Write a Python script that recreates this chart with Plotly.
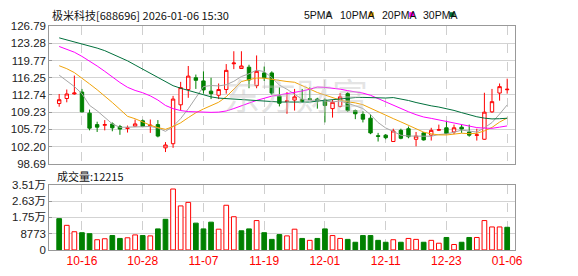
import plotly.graph_objects as go

# ---------------- data ----------------
dates = ["2025-10-13", "2025-10-14", "2025-10-15", "2025-10-16", "2025-10-17",
         "2025-10-20", "2025-10-21", "2025-10-22", "2025-10-23", "2025-10-24",
         "2025-10-27", "2025-10-28", "2025-10-29", "2025-10-30", "2025-10-31",
         "2025-11-03", "2025-11-04", "2025-11-05", "2025-11-06", "2025-11-07",
         "2025-11-10", "2025-11-11", "2025-11-12", "2025-11-13", "2025-11-14",
         "2025-11-17", "2025-11-18", "2025-11-19", "2025-11-20", "2025-11-21",
         "2025-11-24", "2025-11-25", "2025-11-26", "2025-11-27", "2025-11-28",
         "2025-12-01", "2025-12-02", "2025-12-03", "2025-12-04", "2025-12-05",
         "2025-12-08", "2025-12-09", "2025-12-10", "2025-12-11", "2025-12-12",
         "2025-12-15", "2025-12-16", "2025-12-17", "2025-12-18", "2025-12-19",
         "2025-12-22", "2025-12-23", "2025-12-24", "2025-12-25", "2025-12-26",
         "2025-12-29", "2025-12-30", "2025-12-31", "2026-01-05", "2026-01-06"]

opens = [110.99, 112.02, 112.95, 113.33, 109.03, 106.69, 106.56, 106.83, 106.30, 105.91,
         106.37, 107.47, 106.45, 106.69, 101.95, 102.79, 110.73, 113.85, 116.25, 115.60,
         113.52, 112.68, 113.85, 119.10, 118.14, 118.40, 114.63, 117.23, 117.23, 112.55,
         111.40, 111.70, 111.83, 111.96, 111.90, 111.70, 109.95, 110.40, 113.00, 109.56,
         108.78, 108.00, 104.42, 104.54, 103.24, 105.52, 105.85, 103.70, 105.00, 104.54,
         105.55, 106.04, 105.19, 106.17, 105.19, 104.50, 103.70, 109.29, 113.13, 113.80]
highs = [112.94, 113.85, 116.70, 113.97, 109.75, 107.28, 107.61, 107.14, 106.63, 106.50,
         107.73, 107.73, 107.73, 107.61, 103.12, 112.55, 115.41, 118.65, 116.90, 117.56,
         116.25, 115.08, 119.04, 121.66, 121.66, 118.90, 120.80, 118.53, 117.56, 114.30,
         113.33, 113.97, 113.97, 114.30, 112.16, 112.02, 111.70, 113.13, 113.33, 109.75,
         109.43, 108.78, 105.00, 104.74, 105.85, 105.85, 106.30, 105.19, 105.19, 106.04,
         106.69, 107.47, 106.69, 106.69, 106.69, 105.85, 113.19, 113.97, 115.08, 116.06]
lows = [110.34, 111.24, 112.80, 109.20, 105.52, 105.19, 105.52, 105.33, 104.61, 105.07,
        106.30, 106.17, 105.00, 104.09, 101.09, 101.95, 109.56, 112.16, 113.97, 113.00,
        111.90, 111.90, 113.00, 118.01, 118.14, 114.11, 114.11, 115.60, 112.80, 110.40,
        108.90, 109.56, 111.30, 111.70, 109.95, 107.14, 108.12, 110.20, 109.29, 107.80,
        107.14, 104.74, 103.24, 103.70, 103.24, 103.70, 103.90, 102.26, 103.44, 103.44,
        105.39, 104.74, 104.74, 105.00, 104.22, 103.44, 103.60, 109.10, 111.57, 113.00]
closes = [111.77, 112.94, 113.13, 109.29, 105.97, 106.17, 106.69, 106.04, 105.78, 106.04,
          106.83, 106.30, 106.56, 104.35, 102.53, 111.90, 114.24, 116.58, 115.73, 113.77,
          113.00, 113.85, 117.76, 119.25, 118.65, 115.80, 117.56, 116.25, 113.13, 111.04,
          111.51, 112.35, 111.37, 111.83, 111.51, 110.60, 111.24, 112.35, 109.56, 108.90,
          107.80, 105.00, 104.30, 104.02, 105.39, 103.90, 104.22, 104.35, 103.57, 105.52,
          105.65, 104.87, 106.04, 105.78, 104.54, 104.60, 109.23, 111.37, 114.44, 113.90]
volumes = [16870, 13260, 9800, 9290, 8770, 5500, 6020, 7740, 6190, 6540,
           8090, 7740, 7570, 11350, 16510, 32860, 23740, 25640, 14450, 11350,
           14970, 11180, 24090, 17890, 10320, 11350, 15830, 9290, 5680, 8260,
           7570, 11180, 6190, 5160, 6190, 11350, 7740, 6190, 5680, 4130,
           7740, 7740, 5160, 4130, 5500, 4130, 6190, 5680, 4130, 5160,
           3610, 6710, 2920, 4130, 6710, 6710, 15830, 12390, 12390, 12215]
prev_close = 112.60  # close of the session before the first visible day

# moving-average values for days whose window starts before the view
ma5_head = [116.78, 115.70, 114.45, 113.00]
ma10_head = [118.70, 118.10, 117.30, 116.20, 115.00, 113.80, 112.55, 111.20, 109.80]
ma20_head = [122.63, 122.11, 121.46, 120.61, 119.70, 118.65, 117.56, 116.39, 115.28, 114.30,
             113.66, 113.19, 112.55, 111.70, 110.60, 109.95, 109.56, 109.35, 109.30]
ma30_head = [124.39, 124.00, 123.61, 123.22, 122.83, 122.30, 121.78, 121.13, 120.49, 119.70,
             118.85, 118.01, 117.23, 116.45, 115.61, 114.63, 114.11, 113.66, 113.19, 112.80,
             112.35, 112.10, 112.02, 111.90, 111.83, 111.70, 111.57, 111.51, 111.40]

price_ticks = [98.69, 102.20, 105.72, 109.23, 112.74, 116.25, 119.77, 123.28, 126.79]
vol_ticks = [0, 8773, 17546, 26319, 35092]
vol_tick_text = ["0", "8773", "1.75万", "2.63万", "3.51万"]
date_ticks = ["2025-10-16", "2025-10-28", "2025-11-07", "2025-11-19",
              "2025-12-01", "2025-12-11", "2025-12-23", "2026-01-06"]
date_tick_text = ["10-16", "10-28", "11-07", "11-19", "12-01", "12-11", "12-23", "01-06"]

title_text = "极米科技[688696] 2026-01-06 15:30"
vol_title = "成交量:12215"
ma_names = ["5PMA", "10PMA", "20PMA", "30PMA"]
ma_colors = ["#a6a6a6", "#f0a30a", "#ff00ff", "#00703c"]

RED = "#ff0000"
GREEN = "#008000"


def moving_avg(head, n):
    out = list(head)
    for i in range(n - 1, len(closes)):
        out.append(sum(closes[i - n + 1:i + 1]) / n)
    return out


ma_series = [moving_avg(ma5_head, 5), moving_avg(ma10_head, 10),
             moving_avg(ma20_head, 20), moving_avg(ma30_head, 30)]

# volume colour: up vs previous close
prevs = [prev_close] + closes[:-1]
vol_up = [c >= p for c, p in zip(closes, prevs)]
vol_fill = ["#ffffff" if u else GREEN for u in vol_up]
vol_line = [RED if u else GREEN for u in vol_up]

W, H = 578, 276
def px(x):
    return x / W
def py(y):
    return 1 - y / H

fig = go.Figure()

fig.add_trace(go.Candlestick(
    x=dates, open=opens, high=highs, low=lows, close=closes,
    increasing=dict(line=dict(color=RED, width=1), fillcolor="#ffffff"),
    decreasing=dict(line=dict(color=GREEN, width=1), fillcolor=GREEN),
    whiskerwidth=0, xaxis="x", yaxis="y", showlegend=False, hoverinfo="skip"))

for name, col, vals in zip(ma_names, ma_colors, ma_series):
    fig.add_trace(go.Scatter(x=dates, y=vals, mode="lines", name=name,
                             line=dict(color=col, width=1), xaxis="x", yaxis="y",
                             showlegend=False, hoverinfo="skip"))

fig.add_trace(go.Bar(x=dates, y=volumes, width=0.62,
                     marker=dict(color=vol_fill, line=dict(color=vol_line, width=1)),
                     xaxis="x2", yaxis="y2", showlegend=False, hoverinfo="skip"))

x_range = [-1.3, 60.0]
xcommon = dict(type="category", range=x_range, tickvals=date_ticks, ticktext=date_tick_text,
               showgrid=True, gridcolor="#cfcfcf", griddash="dash", gridwidth=1,
               showline=True, linecolor="#999999", linewidth=1, mirror=True,
               ticks="", zeroline=False, fixedrange=True)

fig.update_layout(
    width=W, height=H, margin=dict(l=0, r=0, t=0, b=0),
    paper_bgcolor="#ffffff", plot_bgcolor="#ffffff",
    boxgap=0.36, bargap=0.3,
    xaxis=dict(xcommon, domain=[px(50), px(522)], anchor="y", showticklabels=False,
               rangeslider=dict(visible=False)),
    xaxis2=dict(xcommon, domain=[px(50), px(522)], anchor="y2", showticklabels=True,
                tickfont=dict(family="Liberation Sans, Arial", size=12, color=RED)),
    yaxis=dict(domain=[py(165), py(21)], range=[price_ticks[0], price_ticks[-1]],
               tickvals=price_ticks, ticktext=[f"{v:.2f}" for v in price_ticks],
               showgrid=True, gridcolor="#d3d3d3", gridwidth=1,
               showline=True, linecolor="#999999", linewidth=1, mirror=True,
               ticks="inside", ticklen=3, tickcolor="#999999", zeroline=False,
               tickfont=dict(family="Liberation Sans, Arial", size=11.5, color="#222222"),
               fixedrange=True),
    yaxis2=dict(domain=[py(255), py(187)], range=[0, vol_ticks[-1]],
                tickvals=vol_ticks, ticktext=vol_tick_text,
                showgrid=True, gridcolor="#d3d3d3", gridwidth=1,
                showline=True, linecolor="#999999", linewidth=1, mirror=True,
                ticks="inside", ticklen=3, tickcolor="#999999", zeroline=False,
                tickfont=dict(family="Liberation Sans, Noto Sans CJK SC", size=11.5, color="#222222"),
                fixedrange=True),
)

annotations = [
    dict(text=title_text, x=px(51), y=py(9), xref="paper", yref="paper",
         xanchor="left", yanchor="middle", showarrow=False,
         font=dict(family="Noto Sans CJK SC", size=11, color="#111111")),
    dict(text=vol_title, x=px(56), y=py(178), xref="paper", yref="paper",
         xanchor="left", yanchor="middle", showarrow=False,
         font=dict(family="Noto Sans CJK SC", size=11, color="#111111")),
    dict(text="东方财富", x=px(300), y=py(92), xref="paper", yref="paper",
         xanchor="center", yanchor="middle", showarrow=False,
         font=dict(family="Noto Sans CJK SC", size=36, color="rgba(195,195,195,0.45)")),
]
leg_text_x = [306, 343, 385, 427]
leg_box_x = [331, 374, 415, 456]
shapes = []
for name, col, lx, bx in zip(ma_names, ma_colors, leg_text_x, leg_box_x):
    annotations.append(dict(
        text=name, x=px(lx), y=py(9),
        xref="paper", yref="paper", xanchor="left", yanchor="middle", showarrow=False,
        font=dict(family="Liberation Sans Narrow, Liberation Sans, Arial", size=10.5,
                  color="#111111")))
    shapes.append(dict(type="rect", xref="paper", yref="paper",
                       x0=px(bx), x1=px(bx + 5), y0=py(11.5), y1=py(6.5),
                       fillcolor=col, line=dict(width=0)))
fig.update_layout(annotations=annotations, shapes=shapes)

fig.write_html("out.html")
